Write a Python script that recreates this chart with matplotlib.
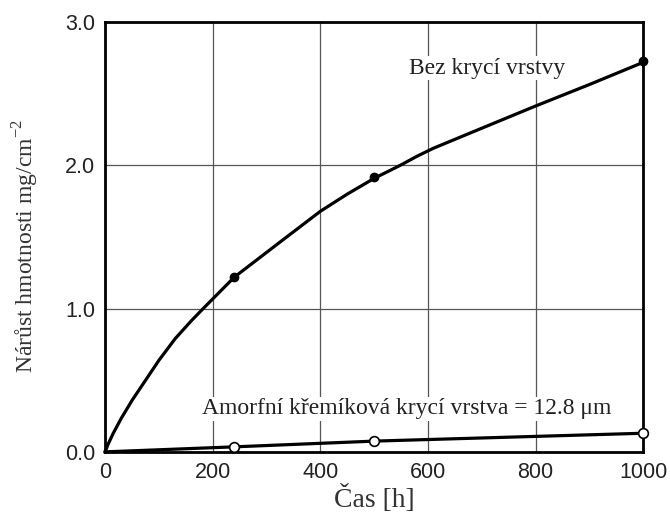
import matplotlib
matplotlib.use('Agg')
from matplotlib import pyplot as plt

# mass gain without coating: fitted curve and measured points
t_bare = [0, 5, 15, 30, 50, 75, 100, 130, 160, 182, 240, 325, 400, 450, 500, 548, 580, 610, 700, 800, 900, 1000]
gain_bare = [0, 0.05, 0.13, 0.235, 0.36, 0.50, 0.64, 0.79, 0.915, 1.0, 1.22, 1.465, 1.68, 1.80, 1.91, 2.0,
             2.065, 2.12, 2.26, 2.415, 2.565, 2.72]
t_bare_pts = [240, 500, 1000]
gain_bare_pts = [1.22, 1.92, 2.73]

# mass gain with amorphous silicon coating
t_coat = [0, 240, 500, 1000]
gain_coat = [0, 0.035, 0.075, 0.13]
t_coat_pts = [240, 500, 1000]
gain_coat_pts = [0.035, 0.075, 0.13]

xticks = [0, 200, 400, 600, 800, 1000]
yticks = [0.0, 1.0, 2.0, 3.0]

fig = plt.figure(figsize=(6.7, 5.17), dpi=100)
ax = fig.add_axes([0.157, 0.126, 0.803, 0.831])

ax.plot(t_bare, gain_bare, color='black', lw=2.3, solid_joinstyle='round',
        clip_on=False, zorder=3)
ax.plot(t_bare_pts, gain_bare_pts, 'o', color='black', ms=6, clip_on=False, zorder=4)
ax.plot(t_coat, gain_coat, color='black', lw=2.3, clip_on=False, zorder=3)
ax.plot(t_coat_pts, gain_coat_pts, 'o', mfc='white', mec='black', mew=1.2, ms=7,
        clip_on=False, zorder=4)

ax.set_xlim(0, 1000)
ax.set_ylim(0, 3.0)
ax.set_xticks(xticks)
ax.set_yticks(yticks)
ax.set_yticklabels(['%.1f' % v for v in yticks])
ax.tick_params(length=0, pad=7, labelsize=15.5, labelcolor='#222222')
for lab in ax.get_xticklabels() + ax.get_yticklabels():
    lab.set_family('Liberation Sans')

ax.grid(True, color='#555555', lw=0.9)
ax.set_axisbelow(True)
for sp in ax.spines.values():
    sp.set_linewidth(2)
    sp.set_color('black')

serif = 'Liberation Serif'
ax.text(710, 2.68, 'Bez krycí vrstvy', family=serif, fontsize=17, color='#222222',
        ha='center', va='center', zorder=5,
        bbox=dict(facecolor='white', edgecolor='none', pad=1))
ax.text(560, 0.30, 'Amorfní křemíková krycí vrstva = 12.8 μm', family=serif, fontsize=17,
        color='#222222', ha='center', va='center', zorder=5,
        bbox=dict(facecolor='white', edgecolor='none', pad=1))

ax.set_xlabel('Čas [h]', family=serif, fontsize=20, color='#333333', labelpad=2)
ax.set_ylabel('Nárůst hmotnosti mg/cm$^{\\mathregular{-2}}$', family=serif, fontsize=17,
              color='#333333')
ax.yaxis.set_label_coords(-0.12, 0.48)

plt.savefig('out.png', dpi=100)
